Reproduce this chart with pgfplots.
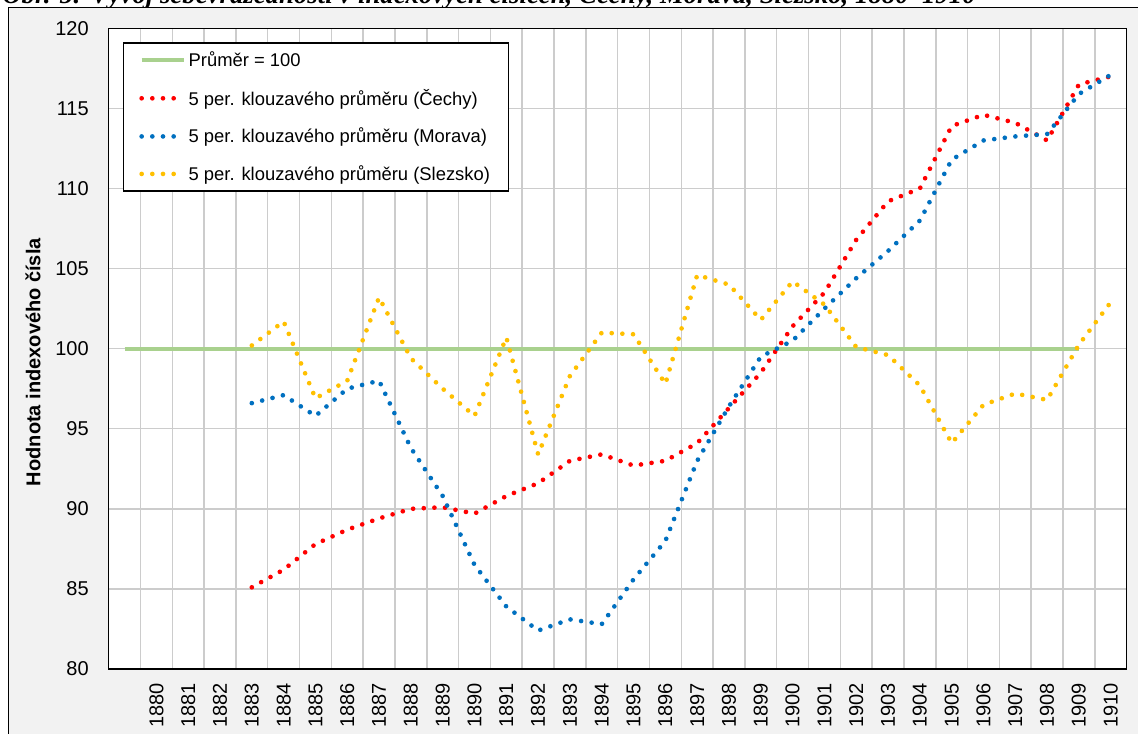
\documentclass[border=0pt]{standalone}
\usepackage{fontspec}
\setmainfont{Liberation Sans}
\newfontfamily\titlefont{Liberation Serif}
\usepackage{pgfplots}
\pgfplotsset{compat=1.18}
\definecolor{cRed}{RGB}{255,0,0}
\definecolor{cBlue}{RGB}{0,112,192}
\definecolor{cYel}{RGB}{255,192,0}
\definecolor{cGreen}{RGB}{169,209,142}
\definecolor{cGrid}{RGB}{204,204,204}
\definecolor{cBg}{RGB}{242,242,242}
\pgfplotsset{dotsty/.style={line width=3.5pt, line cap=round, dash pattern=on 0pt off 8pt}}
\begin{document}
\begin{tikzpicture}
\useasboundingbox (0,0) rectangle (853.5pt,-550.5pt);
\clip (0,0) rectangle (853.5pt,-550.5pt);
\fill[white] (0,0) rectangle (853.5pt,-550.5pt);
\node[anchor=base west, inner sep=0pt] at (1.5pt,-2.8pt) {\resizebox{730pt}{!}{\titlefont\bfseries\itshape Obr. 5: Vývoj sebevražednosti v indexových číslech, Čechy, Morava, Slezsko, 1880–1910}};
\draw[fill=cBg, draw=black, line width=1.1pt] (6.5pt,-5.5pt) rectangle (870pt,-570pt);
\begin{axis}[
  at={(81.5pt,-501.75pt)}, anchor=south west,
  scale only axis, width=763.5pt, height=480.5pt,
  xmin=1878.5, xmax=1910.5, ymin=80, ymax=120,
  xtick={1880,...,1910},
  xticklabels={1880,1881,1882,1883,1884,1885,1886,1887,1888,1889,1890,1891,1892,1893,1894,1895,1896,1897,1898,1899,1900,1901,1902,1903,1904,1905,1906,1907,1908,1909,1910},
  minor xtick={1879.5,1880.5,...,1909.5},
  ytick={80,85,...,120},
  xminorgrids=true, ymajorgrids=true, xmajorgrids=false,
  grid style={cGrid, line width=1.1pt},
  minor grid style={cGrid, line width=1.1pt},
  major tick length=0pt, minor tick length=0pt,
  axis line style={black, line width=1.2pt},
  axis background/.style={fill=white},
  tick label style={font=\fontsize{15}{17}\selectfont},
  /pgf/number format/assume math mode=true,
  yticklabel style={anchor=east, inner sep=0pt, xshift=-14.8pt},
  xticklabel style={yshift=-10.5pt, rotate=90, anchor=east, inner sep=0pt},
  ylabel={Hodnota indexového čísla},
  ylabel style={at={(axis description cs:-0.0744,0.479)}, anchor=center, font=\bfseries\fontsize{15}{18}\selectfont},
  legend cell align=left,
  legend style={at={(0.01375,0.978)}, anchor=north west, draw=black, line width=1pt, fill=white,
    font=\fontsize{13.8}{16}\selectfont, inner xsep=12pt, inner ysep=4.5pt, row sep=11.5pt,
    /tikz/every even column/.append style={column sep=3pt}},
  legend image code/.code={\draw[#1] (0pt,0pt) -- (31.5pt,0pt);},
]
\addplot[draw=cGreen, line width=3pt] coordinates {(1879,100) (1909,100)};
\addlegendentry{Průměr = 100}
\addplot[draw=cRed, dotsty] coordinates {
(1883,85.1) (1884,86.2) (1885,87.8) (1886,88.7) (1887,89.4) (1888,90.0) (1889,90.1) (1890,89.7)
(1891,90.8) (1892,91.6) (1893,93.0) (1894,93.4) (1895,92.7) (1896,93.0) (1897,94.1) (1898,96.3)
(1899,98.5) (1900,101.4) (1901,103.5) (1902,106.8) (1903,109.2) (1904,110.0) (1905,113.9)
(1906,114.6) (1907,114.1) (1908,113.0) (1909,116.5) (1910,117.0)};
\addlegendentry{5 per. klouzavého průměru (Čechy)}
\addplot[draw=cBlue, dotsty] coordinates {
(1883,96.6) (1884,97.1) (1885,95.8) (1886,97.5) (1887,98.0) (1888,93.8) (1889,90.8) (1890,86.5)
(1891,83.9) (1892,82.4) (1893,83.1) (1894,82.8) (1895,85.6) (1896,88.0) (1897,93.0) (1898,96.4)
(1899,99.5) (1900,100.5) (1901,102.5) (1902,104.4) (1903,106.1) (1904,108.0) (1905,111.8)
(1906,113.0) (1907,113.25) (1908,113.4) (1909,115.9) (1910,117.1)};
\addlegendentry{5 per. klouzavého průměru (Morava)}
\addplot[draw=cYel, dotsty] coordinates {
(1883,100.2) (1884,101.7) (1885,96.9) (1886,98.0) (1887,103.2) (1888,99.4) (1889,97.5) (1890,95.8)
(1891,100.7) (1892,93.4) (1893,98.3) (1894,101.0) (1895,100.9) (1896,97.8) (1897,104.6) (1898,104.0)
(1899,101.8) (1900,104.2) (1901,102.75) (1902,100.1) (1903,99.6) (1904,97.7) (1905,94.1)
(1906,96.5) (1907,97.2) (1908,96.8) (1909,100.25) (1910,102.9)};
\addlegendentry{5 per. klouzavého průměru (Slezsko)}
\end{axis}
\end{tikzpicture}
\end{document}
